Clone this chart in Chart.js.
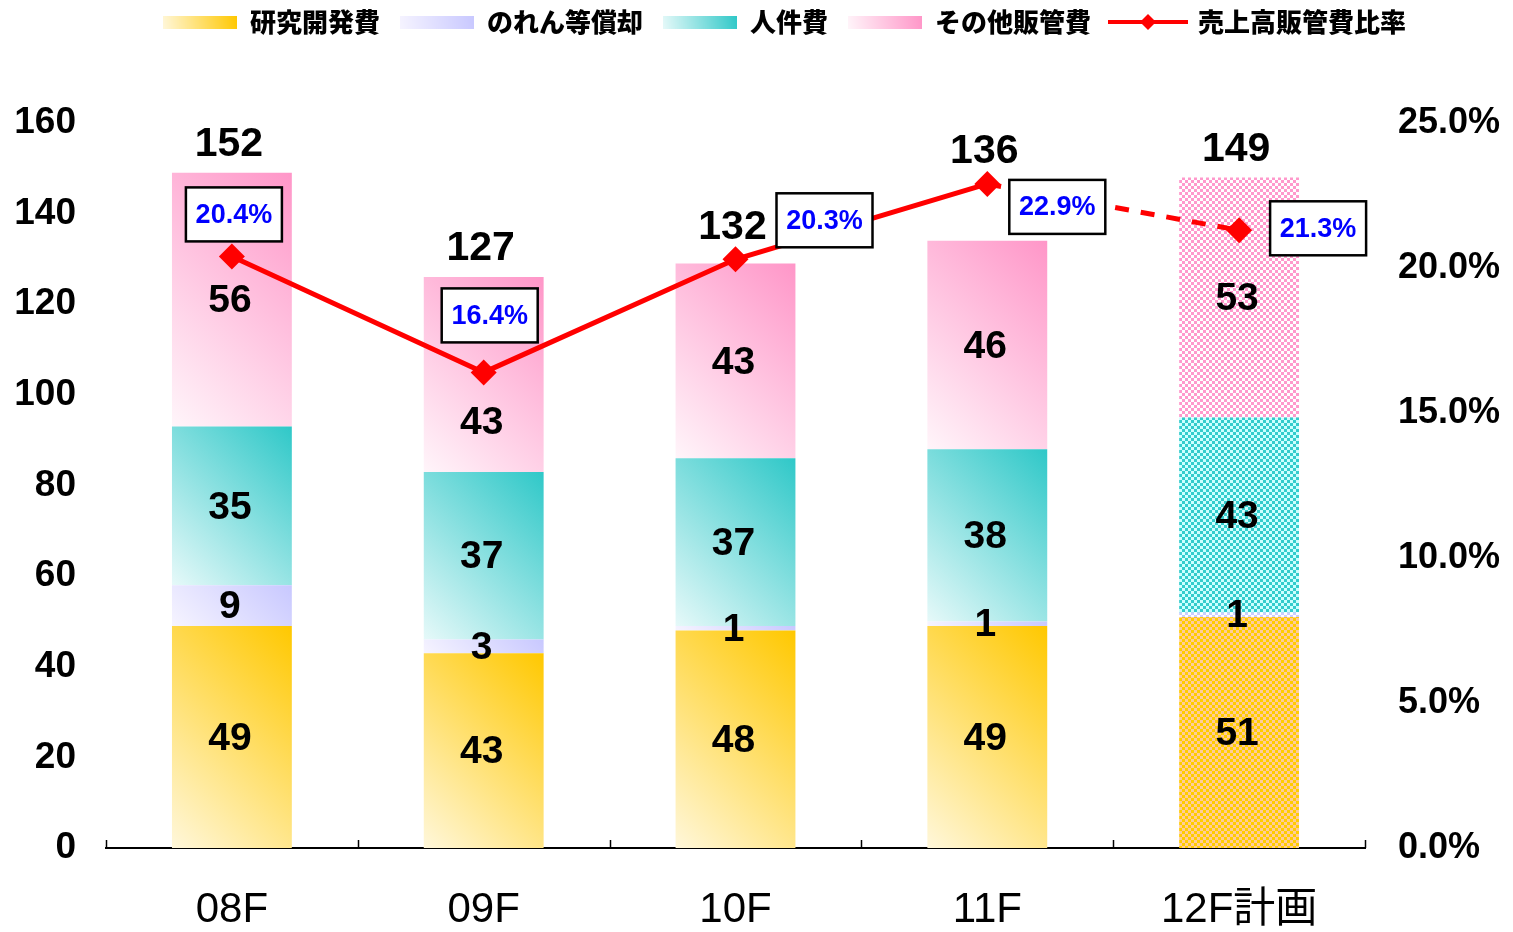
<!DOCTYPE html>
<html><head><meta charset="utf-8">
<script src="https://cdn.jsdelivr.net/npm/chart.js@4.4.1/dist/chart.umd.min.js"></script>
<style>html,body{margin:0;padding:0;background:#fff;overflow:hidden}canvas{display:block}</style>
</head><body>
<canvas id="c" width="1513" height="932"></canvas>
<script>
// ---------- data ----------
const categories = ['08F', '09F', '10F', '11F', '12F計画'];
const isPlan = [false, false, false, false, true];
const rdCost = [49, 43, 48, 49, 51];          // 研究開発費
const goodwill = [9, 3, 1, 1, 1];             // のれん等償却
const personnel = [35, 37, 37, 38, 43];       // 人件費
const otherSga = [56, 43, 43, 46, 53];        // その他販管費
const totals = [152, 127, 132, 136, 149];
const sgaRatio = [20.4, 16.4, 20.3, 22.9, 21.3]; // 売上高販管費比率 (%)
const leftAxis = { min: 0, max: 160, step: 20 };
const rightAxis = { min: 0, max: 25, step: 5 };
const seriesNames = ['研究開発費', 'のれん等償却', '人件費', 'その他販管費', '売上高販管費比率'];

// ---------- styling / layout ----------
const gradColors = [['#FFF7DA', '#FFC800'], ['#F6F4FF', '#C8C8FF'], ['#E6F9F9', '#2FC8C8'], ['#FFF5FA', '#FF96C8']];
const patColors = [['#FFCC00', '#FFCC99'], ['#CCCCFF', '#FFFFFF'], ['#33CCCC', '#CCFFFF'], ['#FF99CC', '#FFFFFF']];
const ratioLabelOffsets = [[2, -42], [6, -57], [89, -39], [70, 23], [79, -2]];
const NUM_FONT = '"Liberation Sans", Arial, "Noto Sans CJK JP", sans-serif';

function makePattern(c1, c2) {
  const t = document.createElement('canvas'); t.width = 6; t.height = 6;
  const g = t.getContext('2d');
  g.fillStyle = c1; g.fillRect(0, 0, 6, 6);
  g.fillStyle = c2; g.fillRect(0, 0, 3, 3); g.fillRect(3, 3, 3, 3);
  return g.createPattern(t, 'repeat');
}
const patterns = patColors.map(p => makePattern(p[0], p[1]));

function legendSwatch(c) {
  const cv = document.createElement('canvas'); cv.width = 74; cv.height = 13;
  const g = cv.getContext('2d');
  const gr = g.createLinearGradient(0, 13, 74, 0);
  gr.addColorStop(0, c[0]); gr.addColorStop(1, c[1]);
  g.fillStyle = gr; g.fillRect(0, 0, 74, 13);
  return cv;
}
function legendLine() {
  const cv = document.createElement('canvas'); cv.width = 80; cv.height = 18;
  const g = cv.getContext('2d');
  g.strokeStyle = '#FF0000'; g.lineWidth = 4;
  g.beginPath(); g.moveTo(0, 9); g.lineTo(80, 9); g.stroke();
  g.fillStyle = '#FF0000';
  g.beginPath(); g.moveTo(40, 1); g.lineTo(48, 9); g.lineTo(40, 17); g.lineTo(32, 9); g.closePath(); g.fill();
  return cv;
}
const legendIcons = gradColors.map(legendSwatch).concat([legendLine()]);

function barFill(di) {
  return function (ctx) {
    if (ctx.type !== 'data') return gradColors[di][1];
    const i = ctx.dataIndex;
    if (isPlan[i]) return patterns[di];
    const ch = ctx.chart, xs = ch.scales.x, ys = ch.scales.y;
    if (!xs || !ys) return gradColors[di][1];
    const cw = xs.getPixelForValue(1) - xs.getPixelForValue(0);
    const half = cw * 0.476 / 2;
    const xc = xs.getPixelForValue(i);
    let below = 0;
    for (let k = 0; k < di; k++) below += ch.data.datasets[k].data[i];
    const v = ch.data.datasets[di].data[i];
    const yb = ys.getPixelForValue(below), yt = ys.getPixelForValue(below + v);
    const w = 2 * half, h = Math.max(1, yb - yt);
    const d = (w + h) / 2;
    const x0 = xc - half;
    const g = ch.ctx.createLinearGradient(x0, yb, x0 + d, yb - d);
    g.addColorStop(0, gradColors[di][0]);
    g.addColorStop(1, gradColors[di][1]);
    return g;
  };
}

const seriesData = [rdCost, goodwill, personnel, otherSga];
const barDatasets = seriesData.map((d, di) => ({
  type: 'bar', label: seriesNames[di], data: d, stack: 's', yAxisID: 'y',
  backgroundColor: barFill(di), borderWidth: 0, order: 1,
  categoryPercentage: 1, barPercentage: 0.476
}));
const lineDataset = {
  type: 'line', label: seriesNames[4], data: sgaRatio, yAxisID: 'y1', order: 0,
  borderColor: '#FF0000', borderWidth: 5, tension: 0,
  pointStyle: 'rectRot', pointRadius: 13, pointBackgroundColor: '#FF0000', pointBorderWidth: 0,
  segment: { borderDash: c => isPlan[c.p1DataIndex] ? [14, 12] : undefined }
};

const layoutPlugin = {
  id: 'layoutTweak',
  afterInit(chart) {
    const lg = chart.legend;
    const orig = lg.fit.bind(lg);
    lg.fit = function () { orig(); this.height = 123; };
  },
  afterLayout(chart) {
    const lg = chart.legend;
    lg.top -= 11; lg.bottom -= 11;
    lg.left += 28; lg.right += 28;
  }
};

const labelPlugin = {
  id: 'valueLabels',
  afterDatasetsDraw(chart) {
    const ctx = chart.ctx;
    const metas = [0, 1, 2, 3].map(i => chart.getDatasetMeta(i));
    const lineMeta = chart.getDatasetMeta(4);
    ctx.save();
    ctx.textAlign = 'center'; ctx.textBaseline = 'middle'; ctx.fillStyle = '#000';
    ctx.font = 'bold 39px ' + NUM_FONT;
    metas.forEach((m, di) => m.data.forEach((el, i) => {
      let y = (el.y + el.base) / 2 + 2;
      const pt = lineMeta.data[i];
      if (Math.abs(y - pt.y) < 30) y = pt.y + 51; // keep clear of the ratio marker
      ctx.fillText(String(chart.data.datasets[di].data[i]), el.x - 2, y);
    }));
    ctx.font = 'bold 41px ' + NUM_FONT;
    totals.forEach((t, i) => {
      const top = Math.min(...metas.map(m => m.data[i].y));
      const pt = lineMeta.data[i];
      const y = Math.min(top - 28, pt.y - 32);
      ctx.fillText(String(t), metas[0].data[i].x - 3, y);
    });
    // ratio boxes
    ctx.font = 'bold 27px ' + NUM_FONT;
    sgaRatio.forEach((r, i) => {
      const pt = lineMeta.data[i];
      const cx = pt.x + ratioLabelOffsets[i][0], cy = pt.y + ratioLabelOffsets[i][1];
      const bw = 96, bh = 54;
      ctx.fillStyle = '#FFFFFF';
      ctx.fillRect(cx - bw / 2, cy - bh / 2, bw, bh);
      ctx.lineWidth = 2.5; ctx.strokeStyle = '#000';
      ctx.strokeRect(cx - bw / 2, cy - bh / 2, bw, bh);
      ctx.fillStyle = '#0000FF';
      ctx.fillText(r.toFixed(1) + '%', cx, cy + 1);
    });
    // inward tick marks on x axis at category boundaries
    const xs = chart.scales.x;
    const cw = xs.getPixelForValue(1) - xs.getPixelForValue(0);
    ctx.strokeStyle = '#000'; ctx.lineWidth = 1.5;
    for (let k = 0; k <= categories.length; k++) {
      const x = Math.round(xs.getPixelForValue(0) - cw / 2 + k * cw) + 0.5;
      ctx.beginPath(); ctx.moveTo(x, xs.top); ctx.lineTo(x, xs.top - 8); ctx.stroke();
    }
    ctx.restore();
  }
};

new Chart(document.getElementById('c'), {
  data: { labels: categories, datasets: barDatasets.concat([lineDataset]) },
  options: {
    responsive: false, animation: false,
    layout: { padding: 0 },
    plugins: {
      tooltip: { enabled: false },
      legend: {
        position: 'top',
        labels: {
          usePointStyle: true, pointStyleWidth: 74, boxHeight: 13, padding: 20, color: '#000',
          font: { family: '"Noto Sans CJK JP", sans-serif', weight: '900', size: 26 },
          generateLabels: (chart) => chart.data.datasets.map((ds, i) => ({
            text: ds.label, pointStyle: legendIcons[i], datasetIndex: i, hidden: false,
            lineWidth: 0, strokeStyle: 'rgba(0,0,0,0)', fillStyle: 'rgba(0,0,0,0)', fontColor: '#000'
          }))
        }
      }
    },
    scales: {
      x: {
        stacked: true,
        grid: { display: false, drawTicks: false },
        border: { display: true, color: '#000', width: 2 },
        ticks: { color: '#000', padding: 37, font: { family: NUM_FONT, size: 42 } },
        afterFit: s => { s.height = 84; }
      },
      y: {
        stacked: true, position: 'left', min: leftAxis.min, max: leftAxis.max,
        grid: { display: false, drawTicks: false }, border: { display: false },
        ticks: { stepSize: leftAxis.step, color: '#000', padding: 30, font: { family: NUM_FONT, size: 37, weight: 'bold' } },
        afterFit: s => { s.width = 106; }
      },
      y1: {
        stacked: false, position: 'right', min: rightAxis.min, max: rightAxis.max,
        grid: { display: false, drawTicks: false }, border: { display: false },
        ticks: { stepSize: rightAxis.step, color: '#000', padding: 33, font: { family: NUM_FONT, size: 36, weight: 'bold' },
          callback: v => Number(v).toFixed(1) + '%' },
        afterFit: s => { s.width = 148; }
      }
    }
  },
  plugins: [layoutPlugin, labelPlugin]
});
</script>
</body></html>
